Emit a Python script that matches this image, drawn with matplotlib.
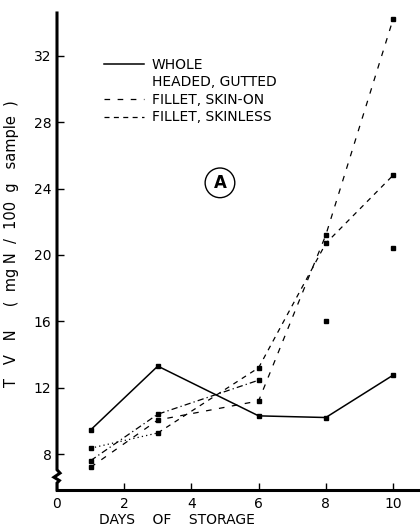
import matplotlib
matplotlib.use("Agg")
import matplotlib.pyplot as plt
from matplotlib.lines import Line2D

days = [1, 3, 6, 8, 10]
whole = [9.45, 13.3, 10.3, 10.2, 12.75]
headed_gutted = [7.6, 10.4, 12.45, 16.0, 20.4]
fillet_skin_on = [7.2, 10.05, 11.2, 21.2, 34.2]
fillet_skinless = [8.35, 9.27, 13.2, 20.7, 24.8]

labels = ["WHOLE", "HEADED, GUTTED", "FILLET, SKIN-ON", "FILLET, SKINLESS"]
xticks = [0, 2, 4, 6, 8, 10]
yticks = [8, 12, 16, 20, 24, 28, 32]

plt.rcParams['font.family'] = ['DejaVu Sans']

W, H = 420, 529
fig = plt.figure(figsize=(W / 100, H / 100), dpi=100)
ax = fig.add_axes([57 / W, 39 / H, (W - 57) / W, (490 - 13) / H])
ax.set_xlim(0, (W - 57) / 33.6)
ax.set_ylim(5.83, 34.59)

ms = 3.5
ax.plot(days, whole, color='k', lw=1.1, ls='-', marker='s', ms=ms)
ax.plot(days[:3], headed_gutted[:3], color='k', lw=0.9, ls=(0, (5, 2.5, 1, 2.5)))
ax.plot(days, headed_gutted, ls='none', marker='s', ms=ms, color='k')
ax.plot(days, fillet_skin_on, color='k', lw=0.9, ls=(0, (4.5, 6)), marker='s', ms=ms)
ax.plot(days[:2], fillet_skinless[:2], color='k', lw=0.9, ls=(0, (1, 2.5)))
ax.plot(days[1:], fillet_skinless[1:], color='k', lw=0.9, ls=(0, (4, 4)))
ax.plot(days, fillet_skinless, ls='none', marker='s', ms=ms, color='k')

# axes styling
for s in ['top', 'right', 'left']:
    ax.spines[s].set_visible(False)
ax.spines['bottom'].set_linewidth(2.2)
# left spine with break
ax.plot([0, 0, 0.09, -0.09, 0.07, 0, 0], [34.59, 7.05, 6.85, 6.6, 6.4, 6.25, 5.83],
        color='k', lw=2.2, clip_on=False, solid_joinstyle='miter')

ax.set_xticks(xticks)
ax.set_yticks(yticks)
ax.tick_params(axis='both', direction='in', length=5, width=1, labelsize=10, pad=4)
ax.tick_params(axis='x', pad=5)

ax.set_xlabel("DAYS    OF    STORAGE", fontsize=10)
ax.xaxis.set_label_coords((177 - 57) / (W - 57), -0.048)
ax.set_ylabel("T   V   N     (  mg N  /  100  g   sample  )", fontsize=10.5)
ax.yaxis.set_label_coords(-(57 - 19) / (W - 57), (490 - 244) / (490 - 13))

handles = [
    Line2D([], [], color='k', lw=1.1, ls='-'),
    Line2D([], [], ls='none'),
    Line2D([], [], color='k', lw=0.9, ls=(0, (4.5, 6))),
    Line2D([], [], color='k', lw=0.9, ls=(0, (4, 3.5))),
]
leg = fig.legend(handles, labels, loc='upper left', bbox_to_anchor=(104 / W, 1 - 58 / H),
                 frameon=False, fontsize=10, handlelength=2.9, handletextpad=0.55,
                 labelspacing=0.25, borderpad=0, borderaxespad=0)

ax.text(4.85, 24.35, "A", fontsize=12, fontweight='bold', ha='center', va='center',
        bbox=dict(boxstyle='circle,pad=0.35', fc='white', ec='k', lw=1))

fig.savefig("out.png", dpi=100)
